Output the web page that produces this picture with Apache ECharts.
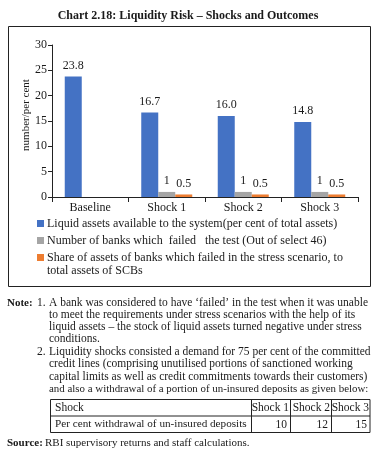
<!DOCTYPE html>
<html>
<head>
<meta charset="utf-8">
<script src="https://cdn.jsdelivr.net/npm/echarts@6/dist/echarts.min.js"></script>
<style>
  html, body { margin: 0; padding: 0; background: #fff; }
  #chart { width: 376px; height: 456px; }
</style>
</head>
<body>
<div id="chart"></div>
<script>
// Chart 2.18 data
const categories = ['Baseline', 'Shock 1', 'Shock 2', 'Shock 3']
const liquidAssets = [23.8, 16.7, 16.0, 14.8]
const banksFailed = [null, 1, 1, 1]
const shareAssetsFailed = [null, 0.5, 0.5, 0.5]
const yMin = 0
const yMax = 30
const yStep = 5

// table under the notes
const shockHeaders = ['Shock 1', 'Shock 2', 'Shock 3']
const withdrawalPct = [10, 12, 15]

const seriesNames = [
  'Liquid assets available to the system(per cent of total assets)',
  'Number of banks which  failed   the test (Out of select 46)',
  'Share of assets of banks which failed in the stress scenario, to total assets of SCBs'
]

const noteLines1 = [
  'A bank was considered to have \u2018failed\u2019 in the test when it was unable',
  'to meet the requirements under stress scenarios with the help of its',
  'liquid assets \u2013 the stock of liquid assets turned negative under stress',
  'conditions.'
]
const noteLines2 = [
  'Liquidity shocks consisted a demand for 75 per cent of the committed',
  'credit lines (comprising unutilised portions of sanctioned working',
  'capital limits as well as credit commitments towards their customers)',
  'and also a withdrawal of a portion of un-insured deposits as given below:'
]

const FONT = "'Liberation Serif', 'DejaVu Serif', serif"
const colors = ['#4472C4', '#A5A5A5', '#ED7D31']

function txt(x, y, text, opt) {
  opt = opt || {}
  return {
    type: 'text',
    x: x,
    y: y,
    style: {
      text: text,
      fill: '#1a1a1a',
      font: (opt.bold ? 'bold ' : '') + (opt.size || 11.5) + 'px ' + FONT,
      textAlign: opt.align || 'left',
      textVerticalAlign: 'middle'
    }
  }
}

function line(x1, y1, x2, y2) {
  return {
    type: 'line',
    shape: { x1: x1, y1: y1, x2: x2, y2: y2 },
    style: { stroke: '#222', lineWidth: 1 }
  }
}

const chart = echarts.init(document.getElementById('chart'), null, { renderer: 'canvas' })

let graphics = []
// frame around the chart
graphics.push({
  type: 'rect',
  shape: { x: 8.5, y: 26.5, width: 362, height: 260 },
  style: { fill: 'none', stroke: '#222', lineWidth: 1 },
  silent: true
})
// second line of the third legend item
graphics.push(txt(47, 271, 'total assets of SCBs', { size: 12 }))

// notes
graphics.push(txt(7, 303, 'Note:', { bold: true, size: 11 }))
graphics.push(txt(37, 303, '1.'))
noteLines1.forEach(function (s, i) {
  graphics.push(txt(49, 303 + i * 12.1, s))
})
graphics.push(txt(37, 352, '2.'))
noteLines2.forEach(function (s, i) {
  // last line is the longest one, set a bit tighter like the original
  graphics.push(txt(49, 352 + i * 12.4, s, { size: i === 3 ? 10.9 : 11.5 }))
})

// table
const colX = [251, 290, 331, 370]
graphics.push({
  type: 'rect',
  shape: { x: 50.5, y: 399.5, width: 319.5, height: 33 },
  style: { fill: 'none', stroke: '#222', lineWidth: 1 }
})
graphics.push(line(50.5, 416, 370, 416))
colX.slice(0, 3).forEach(function (x) {
  graphics.push(line(x + 0.5, 399.5, x + 0.5, 432.5))
})
graphics.push(txt(55, 407.5, 'Shock'))
graphics.push(txt(55, 424.5, 'Per cent withdrawal of un-insured deposits', { size: 11.2 }))
shockHeaders.forEach(function (h, i) {
  graphics.push(txt(colX[i + 1] - 1, 407.5, h, { align: 'right' }))
  graphics.push(txt(colX[i + 1] - 3, 424.5, String(withdrawalPct[i]), { align: 'right' }))
})

// source
graphics.push(txt(7, 443, 'Source:', { bold: true, size: 11 }))
graphics.push(txt(45, 443, 'RBI supervisory returns and staff calculations.', { size: 11 }))

const labelStyle = {
  show: true,
  position: 'top',
  distance: 5,
  color: '#1a1a1a',
  fontFamily: FONT,
  fontSize: 12
}

var option = {
  animation: false,
  color: colors,
  title: {
    text: 'Chart 2.18: Liquidity Risk \u2013 Shocks and Outcomes',
    left: 'center',
    top: 5,
    textStyle: { fontFamily: FONT, fontWeight: 'bold', fontSize: 12, color: '#1a1a1a' }
  },
  grid: { left: 52, right: 18, top: 45, bottom: 259 },
  legend: {
    orient: 'vertical',
    left: 37,
    top: 216.5,
    padding: 0,
    itemWidth: 7,
    itemHeight: 7,
    itemGap: 3,
    icon: 'rect',
    data: seriesNames,
    formatter: function (name) {
      // third item wraps onto a second line drawn separately
      return name === seriesNames[2] ? 'Share of assets of banks which failed in the stress scenario, to' : name
    },
    textStyle: { fontFamily: FONT, fontSize: 12, color: '#1a1a1a', lineHeight: 14, padding: [0, 0, 0, -2] }
  },
  xAxis: {
    type: 'category',
    data: categories,
    axisLine: { lineStyle: { color: '#222' } },
    axisTick: { show: true, length: 5, lineStyle: { color: '#222' } },
    axisLabel: { fontFamily: FONT, fontSize: 12, color: '#1a1a1a', margin: 5 }
  },
  yAxis: {
    type: 'value',
    min: yMin,
    max: yMax,
    interval: yStep,
    name: 'number/per cent',
    nameLocation: 'middle',
    nameGap: 20,
    nameMoveOverlap: false,
    nameTextStyle: { fontFamily: FONT, fontSize: 11, color: '#1a1a1a', padding: [0, 0, 0, 12] },
    splitLine: { show: false },
    axisLine: { show: true, lineStyle: { color: '#222' } },
    axisTick: { show: true, length: 4, lineStyle: { color: '#222' } },
    axisLabel: { fontFamily: FONT, fontSize: 12, color: '#1a1a1a', margin: 5 }
  },
  series: [{
    name: seriesNames[0],
    type: 'bar',
    data: liquidAssets,
    barWidth: 17,
    barGap: '0%',
    label: Object.assign({}, labelStyle, {
      formatter: function (p) { return p.value.toFixed(1) }
    })
  }, {
    name: seriesNames[1],
    type: 'bar',
    data: banksFailed,
    barWidth: 17,
    barGap: '0%',
    label: labelStyle
  }, {
    name: seriesNames[2],
    type: 'bar',
    data: shareAssetsFailed,
    barWidth: 17,
    barGap: '0%',
    label: labelStyle
  }],
  graphic: graphics
}

chart.setOption(option)
</script>
</body>
</html>
